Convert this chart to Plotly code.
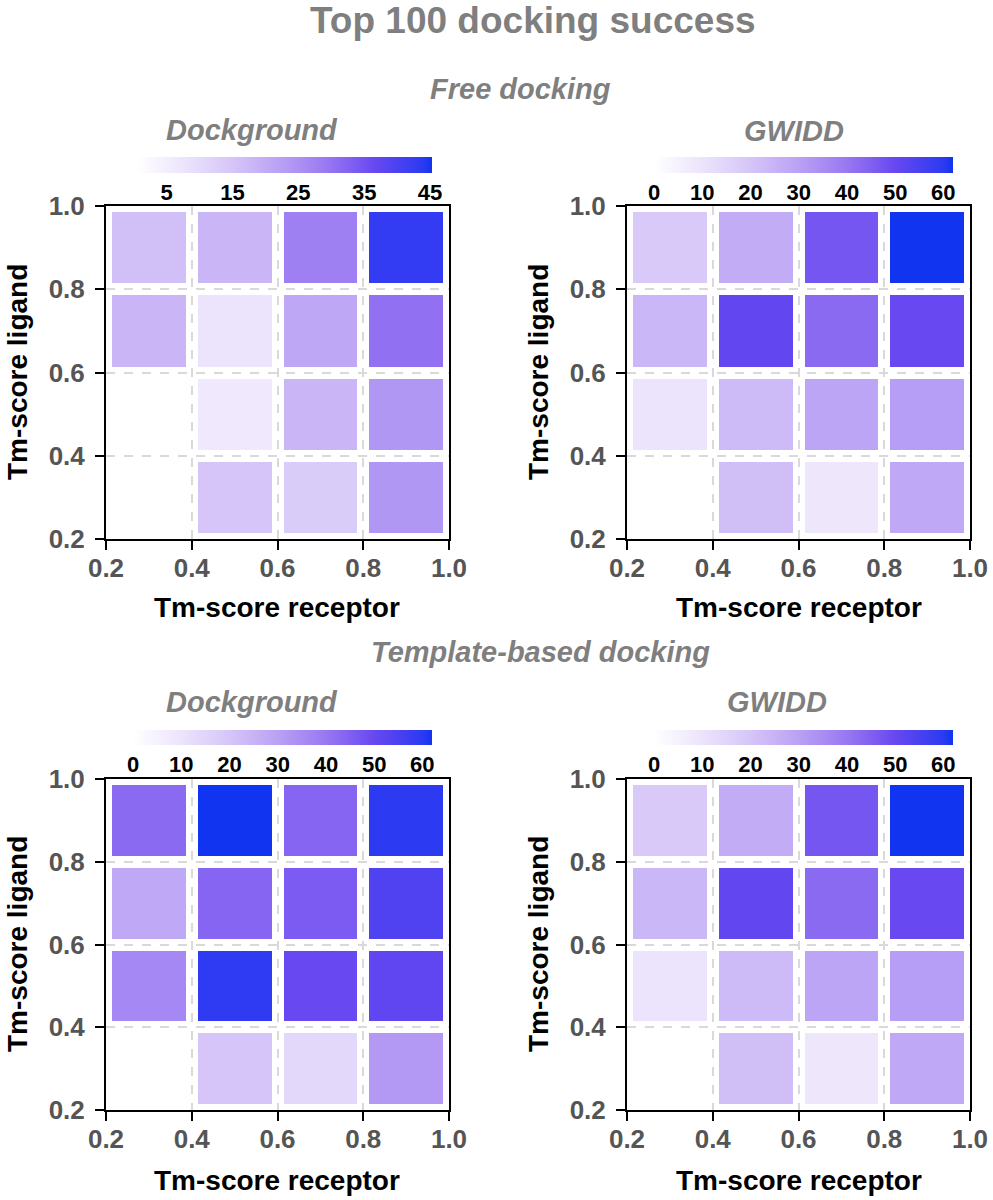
import plotly.graph_objects as go

# ---------------- data ----------------
bin_centers = [0.3, 0.5, 0.7, 0.9]          # Tm-score bins (receptor / ligand)
tick_vals = [0.2, 0.4, 0.6, 0.8, 1.0]

# rows: ligand bins from 0.2-0.4 (bottom) to 0.8-1.0 (top); cols: receptor bins
free_dockground = [
    [None, 15, 13.5, 24],
    [None, 6.3, 18, 24],
    [18, 7.7, 21, 30.5],
    [16, 18, 28, 43],
]
free_gwidd = [
    [None, 22, 9, 28],
    [10, 23, 29, 31],
    [24, 51, 43, 50],
    [19, 27, 47, 62],
]
template_dockground = [
    [None, 20, 14, 32],
    [36, 59.5, 50, 51.5],
    [28, 44, 46, 54],
    [43, 62, 44, 60],
]
template_gwidd = [
    [None, 22, 9, 28],
    [10, 23, 29, 31],
    [24, 51, 43, 50],
    [19, 27, 47, 62],
]
free_dockground_ticks = [5, 15, 25, 35, 45]
gwidd_ticks = [0, 10, 20, 30, 40, 50, 60]

# ---------------- style ----------------
W, H = 993, 1200
FONT = "Liberation Sans, Arial, sans-serif"
GRAY = "#7f7f7f"
colorscale = [
    [0.00, "#ffffff"],
    [0.16, "#ece4fc"],
    [0.32, "#d6c6f8"],
    [0.48, "#baa2f5"],
    [0.645, "#9878f2"],
    [0.806, "#6848f0"],
    [0.968, "#2c3af2"],
    [1.00, "#1034f0"],
]

def px_x(p):
    return p / W

def px_y(p):
    return 1 - p / H

panels = [
    # data, zmin, zmax, ticks, x-domain px, y-domain px, colorbar (left,right,top,thick)
    (free_dockground, 0.5, 45.3, free_dockground_ticks, (106, 449), (206, 539), (137, 432, 157, 16)),
    (free_gwidd, 0, 62, gwidd_ticks, (627, 970), (206, 539), (654, 953, 157, 16)),
    (template_dockground, 0, 62, gwidd_ticks, (106, 449), (779, 1110), (133, 432, 730, 15)),
    (template_gwidd, 0, 62, gwidd_ticks, (627, 970), (779, 1110), (654, 953, 730, 15)),
]


def make_colorbar(cticks, cb):
    return dict(
        orientation="h",
        xanchor="left", x=px_x(cb[0]),
        yanchor="top", y=px_y(cb[2]),
        lenmode="pixels", len=cb[1] - cb[0],
        thickness=cb[3], thicknessmode="pixels",
        xpad=0, ypad=0, outlinewidth=0,
        tickvals=cticks, ticks="", ticklen=0,
        tickfont=dict(family=FONT, size=22, color="black", weight="bold"),
    )


fig = go.Figure()
layout_axes = {}
for i, (z, zmin, zmax, cticks, xd, yd, cb) in enumerate(panels):
    n = "" if i == 0 else str(i + 1)
    fig.add_trace(go.Heatmap(
        z=z, x=bin_centers, y=bin_centers,
        zmin=zmin, zmax=zmax, colorscale=colorscale,
        xgap=12, ygap=12,
        xaxis="x" + n, yaxis="y" + n,
        colorbar=make_colorbar(cticks, cb),
    ))
    axis_common = dict(
        range=[0.2, 1.0], tickvals=tick_vals, tickformat=".1f",
        showline=True, mirror=True, linecolor="black", linewidth=2,
        ticks="outside", ticklen=9, tickwidth=2, tickcolor="black",
        showgrid=True, gridcolor="#d9d9d9", gridwidth=1.5, griddash="dash",
        zeroline=False, fixedrange=True, automargin=False,
        tickfont=dict(family=FONT, size=26, color="#555555", weight="bold"),
    )
    layout_axes["xaxis" + n] = dict(axis_common, domain=[px_x(xd[0]), px_x(xd[1])],
                                    anchor="y" + n, ticklabelstandoff=-4)
    layout_axes["yaxis" + n] = dict(axis_common, domain=[px_y(yd[1]), px_y(yd[0])],
                                    anchor="x" + n, ticklabelstandoff=5)

fig.update_layout(**layout_axes)

annotations = []

def add_text(text, x, y, size, color, weight="bold", style="normal", angle=0):
    annotations.append(dict(
        text=text, x=px_x(x), y=px_y(y), xref="paper", yref="paper",
        xanchor="center", yanchor="middle", showarrow=False, textangle=angle,
        font=dict(family=FONT, size=size, color=color, weight=weight, style=style),
    ))

add_text("Top 100 docking success", 533, 21, 37, GRAY)
add_text("Free docking", 520, 89, 29, GRAY, style="italic")
add_text("Template-based docking", 540, 652, 29, GRAY, style="italic")
add_text("Dockground", 252, 130, 29, GRAY, style="italic")
add_text("GWIDD", 794, 131, 29, GRAY, style="italic")
add_text("Dockground", 252, 702, 29, GRAY, style="italic")
add_text("GWIDD", 777, 702, 29, GRAY, style="italic")
for cx in (277, 799):
    add_text("Tm-score receptor", cx, 607, 28, "black")
    add_text("Tm-score receptor", cx, 1180, 28, "black")
for cx in (17, 538):
    add_text("Tm-score ligand", cx, 372, 28, "black", angle=-90)
    add_text("Tm-score ligand", cx, 944, 28, "black", angle=-90)

fig.update_layout(
    width=W, height=H,
    margin=dict(l=0, r=0, t=0, b=0, autoexpand=False),
    paper_bgcolor="white", plot_bgcolor="white",
    annotations=annotations,
    showlegend=False,
)

fig.write_html(
    "out.html",
    config={"displayModeBar": False},
    post_script="document.body.style.margin='0px';document.body.style.overflow='hidden';",
)
